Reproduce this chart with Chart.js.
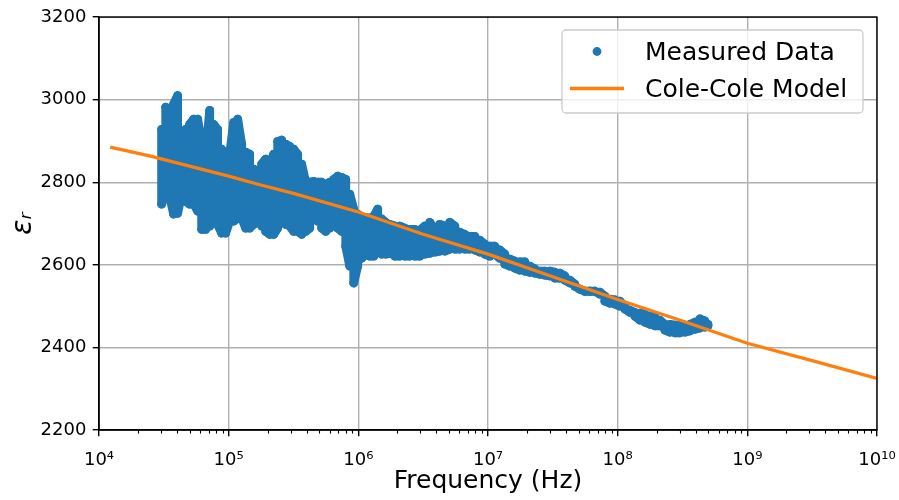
<!DOCTYPE html>
<html><head><meta charset="utf-8">
<script src="https://cdn.jsdelivr.net/npm/chart.js@4.4.0/dist/chart.umd.min.js"></script>
<style>html,body{margin:0;padding:0;background:#fff}#wrap{width:899px;height:500px}</style>
</head><body><div id="wrap"><canvas id="c" width="899" height="500"></canvas></div>
<script>
// Measured data: frequency columns with upper / lower envelope of the measured cloud
const freqHz = [3.04e4,3.27e4,3.51e4,3.76e4,4.04e4,4.34e4,4.66e4,5.00e4,5.37e4,5.77e4,6.19e4,6.65e4,7.14e4,7.66e4,8.22e4,8.83e4,9.48e4,
1.018e5,1.093e5,1.174e5,1.260e5,1.353e5,1.452e5,1.559e5,1.674e5,1.797e5,1.930e5,2.072e5,2.225e5,2.389e5,2.564e5,2.753e5,2.956e5,3.173e5,3.407e5,3.658e5,3.928e5,4.217e5,4.528e5,4.861e5,5.219e5,5.604e5,6.017e5,6.460e5,6.936e5,7.447e5,7.995e5,8.584e5,9.216e5,9.894e5,
1.062e6,1.141e6,1.224e6,1.315e6,1.411e6,1.515e6,1.627e6,1.747e6,1.910e6,2.087e6,2.280e6,2.492e6,2.724e6,2.977e6,3.253e6,3.556e6,3.886e6,4.247e6,4.642e6,5.073e6,5.544e6,6.059e6,6.622e6,7.237e6,7.909e6,8.644e6,9.447e6,
1.033e7,1.128e7,1.233e7,1.348e7,1.473e7,1.610e7,1.760e7,1.923e7,2.101e7,2.297e7,2.510e7,2.743e7,2.999e7,3.276e7,3.581e7,3.914e7,4.278e7,4.675e7,5.109e7,5.584e7,6.103e7,6.670e7,7.290e7,7.966e7,8.707e7,9.515e7,
1.040e8,1.137e8,1.242e8,1.357e8,1.484e8,1.621e8,1.772e8,1.936e8,2.116e8,2.313e8,2.528e8,2.763e8,3.019e8,3.300e8,3.607e8,3.942e8,4.308e8,4.708e8,4.966e8];
const epsUpper = [2928,2982,2960,2989,3010,2916,2928,2940,2953,2953,2892,2868,2974,2940,2928,2880,2868,
2868,2945,2953,2892,2873,2868,2832,2824,2844,2856,2844,2868,2899,2902,2892,2887,2880,2868,2844,2800,2800,2802,2800,2800,2795,2800,2807,2815,2812,2807,2771,2735,2723,
2715,2715,2713,2718,2735,2711,2703,2698,2694,2694,2689,2686,2686,2684,2694,2703,2686,2698,2694,2703,2694,2679,2674,2669,2669,2660,2650,
2645,2645,2636,2626,2614,2609,2607,2607,2597,2590,2585,2585,2585,2582,2580,2573,2563,2553,2541,2536,2536,2536,2534,2524,2517,2515,
2512,2500,2490,2485,2483,2481,2476,2473,2466,2456,2456,2454,2454,2454,2456,2461,2469,2464,2456];
const epsLower = [2747,2778,2766,2723,2725,2771,2754,2747,2747,2730,2686,2686,2694,2706,2698,2677,2677,
2706,2706,2713,2713,2689,2689,2698,2713,2694,2681,2674,2674,2689,2766,2698,2694,2681,2681,2674,2681,2689,2713,2706,2689,2681,2689,2698,2689,2681,2645,2597,2556,2597,
2616,2626,2621,2621,2633,2626,2626,2628,2621,2621,2621,2621,2621,2621,2626,2628,2631,2633,2633,2638,2638,2638,2638,2638,2636,2631,2626,
2621,2626,2616,2602,2597,2592,2587,2585,2582,2580,2577,2575,2573,2568,2568,2563,2556,2548,2541,2536,2536,2536,2529,2512,2507,2505,
2500,2493,2485,2476,2466,2461,2456,2452,2452,2442,2437,2435,2435,2437,2440,2444,2447,2449,2452];

// Cole-Cole model curve
const modelFreqHz = [1.22e4,2.45e4,1e5,1.74e5,3.16e5,1e6,3.16e6,1e7,3.16e7,1e8,3.16e8,1e9,3.16e9,1e10];
const modelEps    = [2885,2864,2815,2794,2773,2728,2674,2626,2571,2516,2464,2410,2368,2325];

const xTickExponents = [4,5,6,7,8,9,10];
const yTickValues = [2200,2400,2600,2800,3000,3200];

const measuredPts = [];
for (let i = 0; i < freqHz.length; i++) {
  if (i % 2 === 0) {
    measuredPts.push({x: freqHz[i], y: epsUpper[i]}, {x: freqHz[i], y: epsLower[i]});
  } else {
    measuredPts.push({x: freqHz[i], y: epsLower[i]}, {x: freqHz[i], y: epsUpper[i]});
  }
}
const modelPts = modelFreqHz.map((f, i) => ({x: f, y: modelEps[i]}));

const SUP = {'0':'⁰','1':'¹','2':'²','3':'³','4':'⁴','5':'⁵','6':'⁶','7':'⁷','8':'⁸','9':'⁹'};
const sup = n => String(n).split('').map(c => SUP[c]).join('');

const FONT = 'DejaVu Sans';
const BLUE = '#1f77b4', ORANGE = '#ff7f0e';

const decorPlugin = {
  id: 'decor',
  afterDatasetsDraw(chart) {
    const {ctx, chartArea: a, scales} = chart;
    ctx.save();
    // minor ticks on log x axis
    ctx.strokeStyle = '#000'; ctx.lineWidth = 1.1;
    for (let e = 4; e < 10; e++) {
      for (let k = 2; k <= 9; k++) {
        const px = Math.round(scales.x.getPixelForValue(k * Math.pow(10, e))) + 0.5;
        ctx.beginPath(); ctx.moveTo(px, a.bottom); ctx.lineTo(px, a.bottom + 3.6); ctx.stroke();
      }
    }
    // frame
    ctx.lineWidth = 1.4; ctx.strokeStyle = '#000';
    ctx.strokeRect(a.left, a.top, a.right - a.left, a.bottom - a.top);
    ctx.restore();
  },
  afterDraw(chart) {
    const {ctx} = chart;
    const ds = chart.data.datasets;
    ctx.save();
    const bx = 562, by = 30, bw = 301, bh = 83, r = 4;
    ctx.beginPath();
    ctx.moveTo(bx + r, by);
    ctx.arcTo(bx + bw, by, bx + bw, by + bh, r);
    ctx.arcTo(bx + bw, by + bh, bx, by + bh, r);
    ctx.arcTo(bx, by + bh, bx, by, r);
    ctx.arcTo(bx, by, bx + bw, by, r);
    ctx.closePath();
    ctx.fillStyle = 'rgba(255,255,255,0.8)'; ctx.fill();
    ctx.strokeStyle = '#cccccc'; ctx.lineWidth = 1.3; ctx.stroke();
    // entry 1: marker
    ctx.fillStyle = ds[1].backgroundColor;
    ctx.beginPath(); ctx.arc(597, 51.5, 4.4, 0, Math.PI * 2); ctx.fill();
    // entry 2: line
    ctx.strokeStyle = ds[0].borderColor; ctx.lineWidth = 3.3;
    ctx.beginPath(); ctx.moveTo(570, 88.5); ctx.lineTo(624, 88.5); ctx.stroke();
    ctx.fillStyle = '#000'; ctx.font = '25px "' + FONT + '"';
    ctx.textBaseline = 'alphabetic'; ctx.textAlign = 'left';
    ctx.fillText(ds[1].label, 645, 60);
    ctx.fillText(ds[0].label, 645, 97);
    ctx.restore();
  }
};

new Chart(document.getElementById('c'), {
  type: 'scatter',
  data: {
    datasets: [
      {label: 'Cole-Cole Model', data: modelPts, showLine: true, borderColor: ORANGE, backgroundColor: ORANGE,
       borderWidth: 3.3, pointRadius: 0, tension: 0, order: 0},
      {label: 'Measured Data', data: measuredPts, showLine: true, borderColor: BLUE, backgroundColor: BLUE,
       borderWidth: 8.8, borderJoinStyle: 'round', borderCapStyle: 'round', pointRadius: 4.4, pointBorderWidth: 0, tension: 0, order: 1}
    ]
  },
  options: {
    responsive: false, animation: false, devicePixelRatio: 1,
    layout: {padding: {top: 17, right: 22, left: 0, bottom: 0}},
    plugins: {legend: {display: false}, tooltip: {enabled: false}},
    scales: {
      x: {
        type: 'logarithmic', position: 'bottom', min: 1e4, max: 1e10,
        afterBuildTicks: s => { s.ticks = xTickExponents.map(e => ({value: Math.pow(10, e), major: true})); },
        afterFit: s => { s.height = 70; s.paddingLeft = 0; s.paddingRight = 0; },
        ticks: {callback: v => '10' + sup(Math.round(Math.log10(v))), font: {family: FONT, size: 18}, color: '#000',
                padding: 13, maxRotation: 0, autoSkip: false},
        grid: {color: '#b0b0b0', lineWidth: 1.4, tickColor: '#000', tickLength: 6.3, tickWidth: 1.4},
        border: {color: '#000', width: 1.4},
        title: {display: true, text: 'Frequency (Hz)', font: {family: FONT, size: 25}, color: '#000', padding: {top: 0, bottom: 4}}
      },
      y: {
        min: 2200, max: 3200,
        afterBuildTicks: s => { s.ticks = yTickValues.map(v => ({value: v})); },
        afterFit: s => { s.width = 99; },
        ticks: {callback: v => String(v), font: {family: FONT, size: 18}, color: '#000', padding: 6.3},
        grid: {color: '#b0b0b0', lineWidth: 1.4, tickColor: '#000', tickLength: 6.3, tickWidth: 1.4},
        border: {color: '#000', width: 1.4},
        title: {display: true, text: 'εᵣ', font: {family: FONT, size: 28, style: 'italic'}, color: '#000', padding: {top: 7, bottom: 0}}
      }
    }
  },
  plugins: [decorPlugin]
});
</script></body></html>
